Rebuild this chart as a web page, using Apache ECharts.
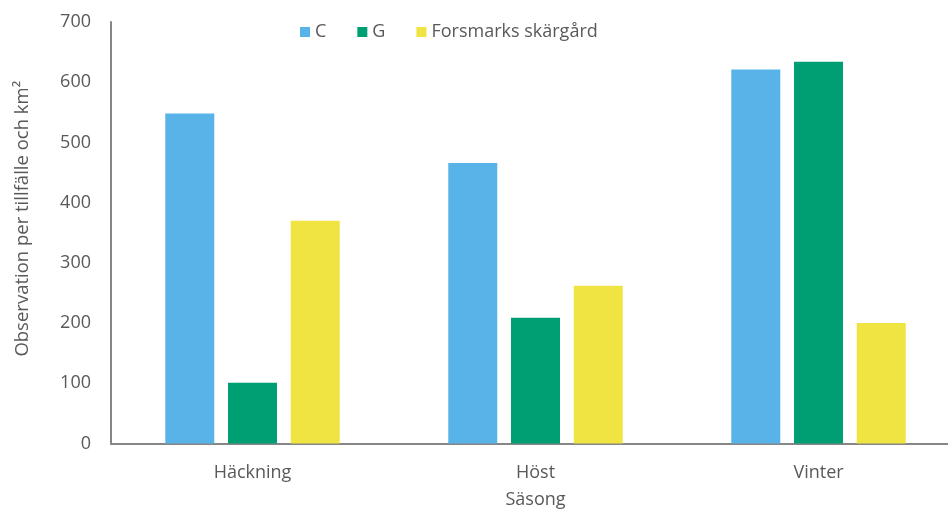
<!DOCTYPE html>
<html>
<head>
<meta charset="utf-8">
<script src="https://cdn.jsdelivr.net/npm/echarts@6/dist/echarts.min.js"></script>
<style>
html,body{margin:0;padding:0;background:#fff;}
#chart{width:948px;height:511px;}
</style>
</head>
<body>
<div id="chart"></div>
<script>
const categories = ['Häckning', 'Höst', 'Vinter'];
const seriesNames = ['C', 'G', 'Forsmarks skärgård'];
const valuesC = [548, 466, 621];
const valuesG = [101, 209, 634];
const valuesF = [370, 262, 200];
const yTicks = [0, 100, 200, 300, 400, 500, 600, 700];
const colors = ['#58B4E8', '#009E73', '#F0E442'];

const font = 'Open Sans';
const textColor = '#595959';
const chart = echarts.init(document.getElementById('chart'), null, {renderer: 'canvas'});
const dataSets = [valuesC, valuesG, valuesF];
chart.setOption({
  animation: false,
  backgroundColor: '#fff',
  textStyle: {fontFamily: font},
  legend: {
    left: 295, top: 18,
    itemWidth: 10, itemHeight: 10, itemGap: 31,
    icon: 'rect',
    textStyle: {fontFamily: font, fontSize: 18, color: textColor, padding: [0, 0, 0, 0]},
    data: seriesNames
  },
  grid: {left: 111, top: 22, width: 849, height: 421.5, containLabel: false, outerBoundsMode: 'none'},
  xAxis: {
    type: 'category',
    data: categories,
    axisLine: {lineStyle: {color: '#868686', width: 2}},
    axisTick: {show: false},
    axisLabel: {fontFamily: font, fontSize: 18, color: textColor, margin: 20},
    name: 'Säsong',
    nameLocation: 'middle',
    nameGap: 47,
    nameTextStyle: {fontFamily: font, fontSize: 18, color: textColor}
  },
  yAxis: {
    type: 'value',
    min: yTicks[0], max: yTicks[yTicks.length - 1], interval: 100,
    axisLine: {show: true, lineStyle: {color: '#868686', width: 2}},
    axisTick: {show: false},
    splitLine: {show: false},
    axisLabel: {fontFamily: font, fontSize: 18, color: textColor, margin: 20},
    name: 'Observation per tillfälle och km²',
    nameLocation: 'middle',
    nameGap: 79,
    nameTextStyle: {fontFamily: font, fontSize: 18.5, color: textColor, padding: [0, 0, 0, 28]}
  },
  series: seriesNames.map((n, i) => ({
    name: n,
    type: 'bar',
    data: dataSets[i],
    barWidth: 49,
    barGap: '28%',
    itemStyle: {color: colors[i]}
  }))
});
</script>
</body>
</html>
